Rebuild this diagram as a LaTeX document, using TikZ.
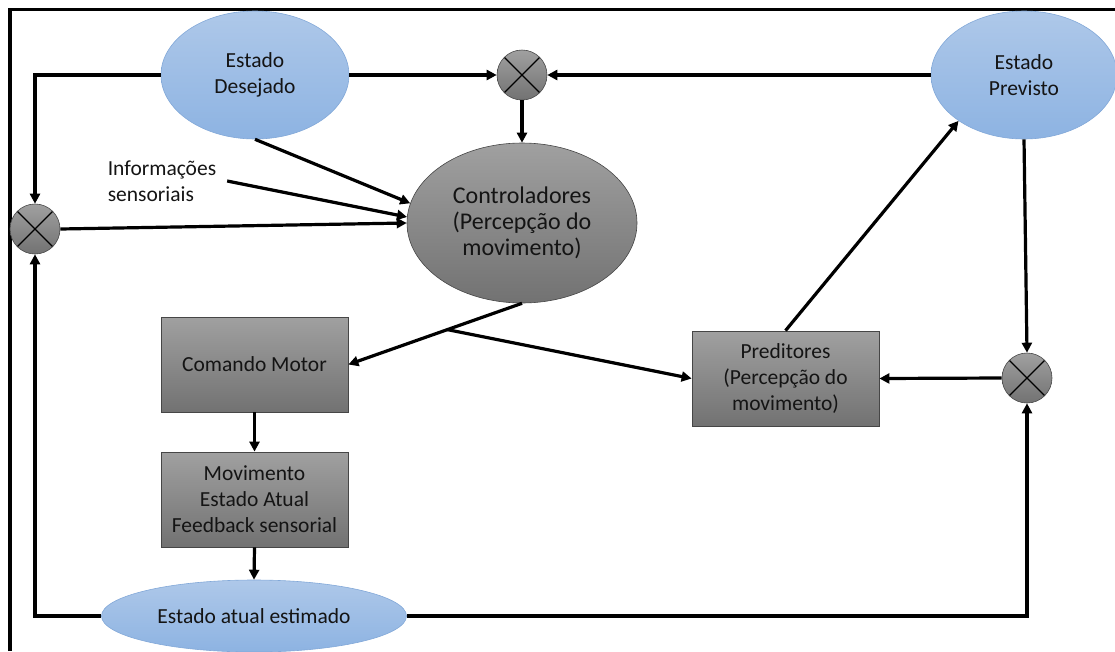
\documentclass[tikz,border=0pt]{standalone}
\usepackage{fontspec}
\setmainfont{Carlito}
\usetikzlibrary{shapes.geometric,arrows.meta}
\definecolor{blueT}{RGB}{174,200,233}
\definecolor{blueB}{RGB}{141,179,226}
\definecolor{blueBd}{RGB}{130,168,216}
\definecolor{grayT}{RGB}{160,160,160}
\definecolor{grayB}{RGB}{114,114,114}
\definecolor{grayBd}{RGB}{70,70,70}
\definecolor{txt}{RGB}{20,20,20}
\begin{document}
\begin{tikzpicture}[x=1pt,y=-1pt,
  blueell/.style={ellipse, draw=blueBd, line width=0.6pt, top color=blueT, bottom color=blueB,
    inner sep=0pt, align=center, text=txt, font=\fontsize{21.5}{26}\selectfont},
  grayell/.style={ellipse, draw=grayBd, line width=0.6pt, top color=grayT, bottom color=grayB,
    inner sep=0pt, align=center, text=txt, font=\fontsize{24}{26}\selectfont},
  grayrect/.style={rectangle, draw=grayBd, line width=0.8pt, top color=grayT, bottom color=grayB,
    minimum width=187pt, minimum height=95pt, inner sep=0pt, align=center, text=txt,
    font=\fontsize{21.5}{26}\selectfont},
  sumj/.style={circle, minimum size=50pt, inner sep=0pt, draw=grayBd, line width=0.6pt,
    top color=grayT, bottom color=grayB,
    path picture={\draw[line width=1.3pt,black]
      (path picture bounding box.north west) -- (path picture bounding box.south east)
      (path picture bounding box.north east) -- (path picture bounding box.south west);}},
  conn/.style={line width=3.2pt, draw=black, -{Triangle[length=10pt,width=10pt]}},
  frameline/.style={line width=3.2pt, draw=black}
]
\useasboundingbox (0,0) rectangle (1115,651);
\draw[frameline] (10,651) -- (10,9.5) -- (1115,9.5);

\node[blueell, minimum width=188pt, minimum height=128pt] (ed) at (255,75) {Estado\\Desejado};
\node[blueell, minimum width=186pt, minimum height=128pt] (ep) at (1024,75) {Estado\\Previsto};
\node[grayell, minimum width=230pt, minimum height=160pt] (ctrl) at (522,223) {Controladores\\(Percepção do\\movimento)};
\node[sumj] (sTop) at (522,75) {};
\node[sumj] (sLeft) at (35,229) {};
\node[sumj] (sRight) at (1027,378) {};
\node[grayrect] (cm) at (254.5,364.5) {Comando Motor};
\node[grayrect] (mv) at (254.5,499.5) {Movimento\\Estado Atual\\Feedback sensorial};
\node[grayrect] (pr) at (785.5,378.5) {Preditores\\(Percepção do\\movimento)};
\node[blueell, minimum width=305pt, minimum height=72pt] (ea) at (254,616) {Estado atual estimado};
\node[align=left, inner sep=0pt, outer xsep=11pt, text=txt, font=\fontsize{21.5}{26}\selectfont] (info) at (162,181) {Informações\\sensoriais};

\draw[conn] (ed.west) -| (sLeft.north);
\draw[conn] (ed.east) -- (sTop.west);
\draw[conn] (ep.west) -- (sTop.east);
\draw[conn] (sTop.south) -- (ctrl.north);
\draw[conn] (ed.south) -- (ctrl.170);
\draw[conn] (info.east) -- (ctrl.177);
\draw[conn] (sLeft.east) -- (ctrl.west);
\draw[conn] (ctrl.south) -- (cm.east);
\path (ctrl.south) -- coordinate[pos=0.43] (br) (cm.east);
\draw[conn] (br) -- (pr.west);
\draw[conn] (pr.north) -- (ep.215);
\draw[conn] (ep.south) -- (sRight.north);
\draw[conn] (sRight.west) -- (pr.east);
\draw[conn] (cm.south) -- (mv.north);
\draw[conn] (mv.south) -- (ea.north);
\draw[conn] (ea.west) -| (sLeft.south);
\draw[conn] (ea.east) -| (sRight.south);
\end{tikzpicture}
\end{document}
